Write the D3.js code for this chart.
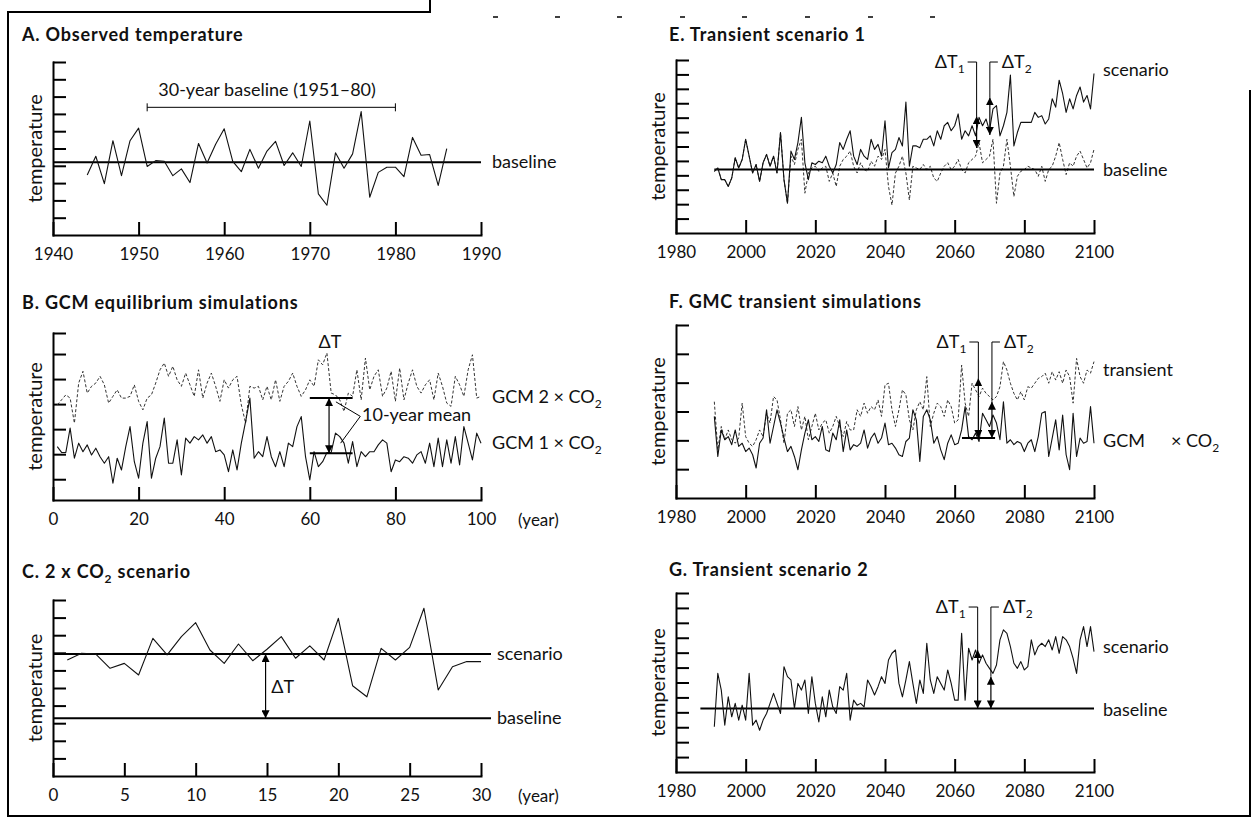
<!DOCTYPE html>
<html><head><meta charset="utf-8">
<script src="https://cdn.jsdelivr.net/npm/d3@7"></script>
<style>
body{margin:0;background:#fff;}
svg text{font-family:Lato,"Open Sans",sans-serif;fill:#111;}
</style></head><body>
<svg id="c" width="1257" height="831"></svg>
<script>
// ---------- DATA (values in temperature tick units) ----------
// A. Observed temperature
const aYears = d3.range(1944, 1987);
const aObserved = [3.47,4.55,2.97,5.45,3.43,5.45,6.18,3.96,4.30,4.26,3.43,3.82,3.03,5.29,4.16,5.25,6.14,4.26,3.66,4.95,3.86,4.85,5.41,4.02,4.75,3.96,6.59,2.38,1.72,4.75,3.86,4.69,7.13,2.18,3.62,3.92,3.92,3.37,5.64,4.61,4.65,2.87,4.99];
const aBaseline = 4.2;
const aXTicks = [1940,1950,1960,1970,1980,1990];

// B. GCM equilibrium simulations
const bYears = d3.range(1, 101);
const bGCM1 = [1.3,1.07,1.07,2.04,0.84,1.44,1.1,1.37,0.97,1.24,
0.9,0.64,0.9,-0.16,0.84,0.37,1.3,2.1,0.7,0.04,
1.44,2.3,0.04,0.84,1.3,2.44,0.64,0.64,1.57,0.17,
1.64,1.44,1.7,1.57,1.77,1.44,1.7,1.1,1.17,0.97,
0.3,1.17,0.37,1.44,2.3,3.24,0.84,1.1,0.9,1.7,
0.9,0.5,1.1,0.5,1.44,1.3,2.1,2.5,0.9,-0.03,
1.1,0.5,0.7,1.07,1.07,1.84,1.7,1.44,0.64,1.5,
0.5,1.1,0.9,1.1,1.1,1.37,1.57,1.44,0.3,0.77,
0.7,0.9,0.84,0.64,0.97,1.1,0.64,1.44,0.5,1.64,
0.5,1.57,0.64,1.7,0.57,2.1,1.44,0.77,1.84,1.44];
const bGCM2 = [2.97,3.17,3.37,3.24,2.24,3.84,4.31,3.44,3.71,3.84,
4.11,3.77,3.04,3.31,3.57,3.24,3.24,3.31,3.77,3.11,
2.77,3.24,3.37,3.84,4.37,4.64,4.11,4.51,3.97,3.71,
4.24,3.77,3.31,4.37,3.24,3.84,4.24,3.71,3.11,3.97,
3.64,3.97,4.11,2.97,2.24,3.71,3.64,3.71,3.17,3.71,
3.17,3.97,3.11,3.71,3.91,4.24,3.71,3.31,3.57,3.97,
3.71,4.77,4.57,5.04,3.44,3.37,3.17,2.71,3.44,3.31,
4.37,3.17,4.84,3.57,4.11,4.37,3.31,3.64,4.31,3.11,
4.44,3.17,3.84,4.37,3.71,3.44,3.77,3.97,3.17,4.24,
3.71,3.04,2.91,4.11,3.77,3.31,4.37,4.97,3.24,3.31];
const bMeanYears = [60, 70];
const bMean1 = 1.04, bMean2 = 3.24;
const bXTicks = [0,20,40,60,80,100];

// C. 2 x CO2 scenario
const cYears = d3.range(1, 31);
const cScenario = [6.59,6.97,6.93,6.12,6.4,5.74,7.82,6.88,7.92,8.71,7.16,6.4,7.5,6.55,7.2,7.92,6.69,7.39,6.59,8.96,5.13,4.5,7.25,6.59,7.31,9.53,4.89,6.21,6.5,6.5];
const cScenarioLevel = 6.93, cBaseline = 3.28;
const cXTicks = [0,5,10,15,20,25,30];

// E/F/G year axis
const tYears = d3.range(1991, 2101);
const tXTicks = [1980,2000,2020,2040,2060,2080,2100];

// E. Transient scenario 1
const eScenario = [4.28,4.51,3.70,3.70,3.23,3.81,5.22,4.51,5.10,6.50,
5.33,4.16,4.75,3.58,4.87,5.45,4.63,5.33,4.16,6.97,
3.70,2.06,5.68,5.10,6.27,8.02,4.87,3.70,4.87,4.75,
4.98,4.87,5.33,4.63,4.16,4.75,6.27,5.80,6.50,7.09,
5.33,4.75,5.80,5.33,5.10,6.50,5.80,6.15,5.33,7.79,
4.51,5.57,5.80,6.62,6.04,9.08,4.63,6.04,6.04,5.92,
6.50,6.50,6.74,6.04,7.09,6.50,7.44,7.67,7.09,7.44,
8.26,6.50,7.09,6.74,7.44,6.74,8.02,7.44,7.91,7.09,
8.61,8.84,6.74,7.44,8.37,10.95,6.04,6.97,7.67,7.67,
7.67,7.67,8.37,8.02,8.14,7.56,7.91,9.31,8.73,10.60,
9.66,8.37,9.31,8.61,9.54,10.13,9.08,9.54,8.61,11.06];
const eBaselineSeries = [4.28,4.51,3.70,3.70,3.23,3.81,5.22,4.51,5.10,6.50,
5.33,4.16,4.75,3.58,4.87,5.45,4.63,5.33,4.16,6.97,
3.70,2.06,5.33,4.75,5.80,6.50,2.76,4.16,4.51,4.63,
4.28,4.51,4.63,3.58,4.16,3.23,4.63,5.10,5.33,5.68,
4.63,4.16,4.87,4.40,4.28,4.98,4.63,5.33,5.10,5.80,
3.23,1.94,4.16,4.63,5.33,4.16,2.29,4.63,4.51,4.40,
4.75,4.40,4.63,3.81,3.58,4.16,4.63,4.87,4.40,4.63,
5.10,4.40,4.16,4.87,5.10,5.33,6.27,4.87,5.10,5.33,
6.50,2.06,4.16,4.63,6.50,4.63,2.53,3.93,4.28,4.40,
4.63,4.51,4.40,3.93,4.63,3.58,4.40,4.63,5.33,6.27,
5.10,4.05,4.87,4.63,5.33,5.68,5.10,4.51,4.87,5.80];
const eBaseline = 4.4;

// F. GMC transient simulations
const fControl = [2.83,1.44,2.36,2.02,2.13,1.85,2.36,1.79,1.90,1.61,
1.73,1.50,1.04,1.90,2.08,3.06,1.90,2.48,3.06,2.60,
2.08,1.61,1.79,1.44,0.98,1.67,2.25,2.71,2.02,2.13,
1.96,2.48,1.67,1.61,2.25,2.02,2.71,1.61,2.36,1.67,
1.85,1.79,1.90,2.36,1.73,2.08,2.25,1.90,2.08,2.60,
1.85,1.90,1.73,1.50,1.44,1.96,2.08,3.06,2.71,1.27,
2.83,3.06,2.71,1.90,2.13,1.67,1.33,1.90,2.19,1.85,
1.90,2.36,3.17,2.13,2.02,2.25,1.96,2.94,2.71,2.48,
2.88,2.60,2.02,3.34,1.90,2.02,1.85,1.96,1.90,1.61,
1.90,2.02,1.61,2.13,2.94,3.00,1.44,2.08,2.71,1.67,
2.88,1.50,0.98,2.94,1.44,2.08,1.90,1.96,3.17,1.90];
const fTransient = [3.34,1.67,2.48,2.02,2.36,2.02,1.90,2.08,3.29,2.13,
1.90,1.79,2.02,2.36,2.13,2.94,2.60,3.52,3.40,2.71,
1.90,2.94,3.06,2.48,3.17,2.36,2.83,2.02,2.48,2.94,
2.36,2.60,2.71,2.25,2.48,2.83,2.48,2.13,2.65,2.36,
2.36,3.06,2.83,3.29,2.94,3.17,3.06,3.40,2.83,3.92,
3.98,3.06,2.48,3.06,3.75,3.58,2.71,2.36,3.06,3.34,
3.06,4.21,2.48,2.94,3.29,3.17,2.83,3.40,3.17,2.60,
2.71,4.61,3.29,2.83,3.98,3.75,3.52,3.81,3.63,3.52,
3.40,3.52,3.86,4.73,4.44,3.98,3.63,3.40,3.69,3.40,
3.86,3.81,3.98,4.15,4.21,4.33,3.98,4.38,4.09,4.38,
3.98,4.44,4.21,3.29,4.84,4.21,3.98,4.44,4.33,4.73];
const fMeanYears = [2062.1, 2071.6];
const fMean = 2.08;

// G. Transient scenario 2
const gScenario = [3.03,6.61,5.49,3.14,5.04,3.70,4.60,3.48,4.48,3.48,
6.61,3.14,3.48,2.80,3.48,3.92,4.60,5.27,4.60,3.92,
7.06,6.39,6.17,4.26,5.94,5.49,6.17,3.92,6.39,4.60,
3.36,5.04,3.70,5.49,4.37,3.92,5.72,5.49,6.61,3.48,
4.82,4.48,4.60,4.37,6.17,5.72,5.16,5.72,6.39,5.94,
7.51,7.96,8.18,5.94,5.04,6.17,7.40,5.94,4.60,6.17,
5.27,8.63,6.17,5.27,6.39,5.94,5.49,6.84,5.94,4.82,
4.82,9.30,4.82,8.30,7.51,8.18,7.29,7.85,7.29,6.95,
6.61,7.17,8.86,9.53,9.30,8.41,7.29,6.95,7.40,6.84,
7.06,8.86,7.85,8.41,8.63,8.41,8.86,8.18,9.08,7.96,
9.08,8.86,8.41,7.62,6.61,8.86,9.75,8.41,9.75,8.07];
const gBaseline = 4.26;

// ---------- DRAWING ----------
const svg = d3.select("#c");
const defs = svg.append("defs");
defs.append("marker").attr("id","ah").attr("viewBox","0 0 10 10")
  .attr("refX",10).attr("refY",5).attr("markerWidth",8).attr("markerHeight",8)
  .attr("markerUnits","userSpaceOnUse").attr("orient","auto-start-reverse")
  .append("path").attr("d","M0,0L10,5L0,10z").attr("fill","#000");

// frame (scanned page border)
const frame = svg.append("g").attr("stroke","#000").attr("stroke-width",2).attr("fill","none");
frame.append("path").attr("d","M430,0V12H8V816H1250V90");
[493,555,617,680,742,805,868,930].forEach(x=>{
  frame.append("line").attr("x1",x).attr("x2",x+5).attr("y1",17).attr("y2",17).attr("stroke-width",1.5);
});

function rich(g, x, y, parts, size, opts={}) {
  const t = g.append("text").attr("x",x).attr("y",y).attr("font-size",size)
    .attr("text-anchor",opts.anchor||"start").attr("font-weight",opts.weight||null)
    .attr("letter-spacing",opts.ls||null);
  let shift = 0;
  parts.forEach(p=>{
    const isSub = Array.isArray(p);
    const txt = isSub ? p[0] : p;
    const target = isSub ? Math.round(size*0.3) : 0;
    const ts = t.append("tspan").text(txt).attr("dy", target - shift);
    if (isSub) ts.attr("font-size", Math.round(size*0.68));
    shift = target;
  });
  return t;
}

function panel(cfg){
  const x = d3.scaleLinear().domain(cfg.xDom).range([cfg.x0,cfg.x1]);
  const y = d3.scaleLinear().domain(cfg.yDom).range([cfg.yBot,cfg.yTop]);
  const g = svg.append("g");
  const ya = g.append("g").attr("transform",`translate(${cfg.x0},0)`)
    .call(d3.axisRight(y).tickValues(cfg.yTicks).tickSizeInner(13).tickSizeOuter(0).tickFormat(""));
  const xa = g.append("g").attr("transform",`translate(0,${cfg.yBot})`)
    .call(d3.axisBottom(x).tickValues(cfg.xTicks).tickSizeInner(-13).tickSizeOuter(0).tickPadding(13).tickFormat(d3.format("d")));
  [ya,xa].forEach(a=>{
    a.select(".domain").attr("stroke","#000").attr("stroke-width",2).attr("stroke-linecap","square");
    a.selectAll(".tick line").attr("stroke","#000").attr("stroke-width",2);
    a.selectAll(".tick text").attr("font-size",17).attr("fill","#111")
      .attr("font-family",'Lato,"Open Sans",sans-serif');
  });
  // title
  rich(g, cfg.tx, cfg.ty, cfg.title, 18, {weight:700, ls:0.8});
  // y label
  g.append("text").attr("transform",`translate(${cfg.x0-19},${(cfg.yTop+cfg.yBot)/2}) rotate(-90)`)
    .attr("text-anchor","middle").attr("dominant-baseline","central").attr("font-size",20).text("temperature");
  if (cfg.unit) g.append("text").attr("x",cfg.x1+37).attr("y",cfg.yBot+26).attr("font-size",17).text(cfg.unit);
  return {x,y,g};
}

function series(p, xs, vs, dashed){
  const line = d3.line().x(d=>p.x(d[0])).y(d=>p.y(d[1]));
  p.g.append("path").datum(xs.map((d,i)=>[d,vs[i]])).attr("d",line)
    .attr("fill","none").attr("stroke", dashed ? "#333" : "#111")
    .attr("stroke-width", dashed ? 1 : 1.1)
    .attr("stroke-dasharray", dashed ? "3,2" : null)
    .attr("stroke-linejoin","round");
}
function hline(p, x0, x1, v, w=2){
  p.g.append("line").attr("x1",p.x(x0)).attr("x2",p.x(x1)).attr("y1",p.y(v)).attr("y2",p.y(v))
    .attr("stroke","#000").attr("stroke-width",w);
}
function arrow2(p, xv, v0, v1){
  p.g.append("line").attr("x1",p.x(xv)).attr("x2",p.x(xv)).attr("y1",p.y(v0)).attr("y2",p.y(v1))
    .attr("stroke","#000").attr("stroke-width",1.2)
    .attr("marker-start","url(#ah)").attr("marker-end","url(#ah)");
}
function deltaLabels(p, x1v, top1, x2v, top2, labV){
  const ly = p.y(labV);
  const X1 = p.x(x1v), X2 = p.x(x2v);
  p.g.append("path").attr("d",`M${X1-9},${ly}H${X1}V${p.y(top1)}`).attr("fill","none").attr("stroke","#000").attr("stroke-width",1);
  p.g.append("path").attr("d",`M${X2+8},${ly}H${X2}V${p.y(top2)}`).attr("fill","none").attr("stroke","#000").attr("stroke-width",1);
  rich(p.g, X1-12, ly+6, ["ΔT",["1"]], 18, {anchor:"end"});
  rich(p.g, X2+12, ly+6, ["ΔT",["2"]], 18);
}

// ---- Panel A
const A = panel({x0:53,x1:481,yTop:62,yBot:235,xDom:[1940,1990],yDom:[0,10],
  yTicks:d3.range(1,11),xTicks:aXTicks,tx:22,ty:41,title:["A. Observed temperature"]});
hline(A,1940,1990,aBaseline);
series(A,aYears,aObserved,false);
A.g.append("text").attr("x",A.x(1990)+11).attr("y",A.y(aBaseline)+6).attr("font-size",18).text("baseline");
A.g.append("path").attr("d",`M${A.x(1951)},${A.y(7.38)-4}V${A.y(7.38)+4}M${A.x(1951)},${A.y(7.38)}H${A.x(1980)}M${A.x(1980)},${A.y(7.38)-4}V${A.y(7.38)+4}`)
  .attr("stroke","#000").attr("stroke-width",1).attr("fill","none");
A.g.append("text").attr("x",A.x(1952.3)).attr("y",A.y(8.37)+6).attr("font-size",18).text("30-year baseline (1951–80)");

// ---- Panel B
const B = panel({x0:53,x1:481,yTop:333,yBot:500,xDom:[0,100],yDom:[-0.83,5.84],
  yTicks:[0,1,2,3,4,5,5.84],xTicks:bXTicks,tx:22,ty:309,title:["B. GCM equilibrium simulations"],unit:"(year)"});
series(B,bYears,bGCM2,true);
series(B,bYears,bGCM1,false);
hline(B,bMeanYears[0],bMeanYears[1],bMean2);
hline(B,bMeanYears[0],bMeanYears[1],bMean1);
arrow2(B,64.5,bMean1,bMean2);
B.g.append("text").attr("x",B.x(64.7)).attr("y",B.y(5.48)+6).attr("text-anchor","middle").attr("font-size",18).text("ΔT");
B.g.append("path").attr("d",`M${B.x(66.1)},${B.y(3.09)}L${B.x(71.8)},${B.y(2.51)}L${B.x(67.2)},${B.y(1.44)}`)
  .attr("fill","none").attr("stroke","#000").attr("stroke-width",1);
B.g.append("text").attr("x",B.x(72.2)).attr("y",B.y(2.55)+6).attr("font-size",18).text("10-year mean");
rich(B.g, 492, B.y(3.3)+6, ["GCM 2 × CO",["2"]], 18);
rich(B.g, 492, B.y(1.45)+6, ["GCM 1 × CO",["2"]], 18);

// ---- Panel C
const C = panel({x0:53,x1:481,yTop:600,yBot:776,xDom:[0,30],yDom:[0,10],
  yTicks:d3.range(1,11),xTicks:cXTicks,tx:22,ty:578,title:["C. 2 x CO",["2"]," scenario"],unit:"(year)"});
hline(C,0,30.7,cScenarioLevel);
hline(C,0,30.7,cBaseline);
series(C,cYears,cScenario,false);
arrow2(C,14.9,cBaseline,cScenarioLevel);
C.g.append("text").attr("x",C.x(15.3)).attr("y",C.y(5.06)+6).attr("font-size",18).text("ΔT");
C.g.append("text").attr("x",497).attr("y",C.y(cScenarioLevel)+6).attr("font-size",18).text("scenario");
C.g.append("text").attr("x",497).attr("y",C.y(cBaseline)+6).attr("font-size",18).text("baseline");

// ---- Panel E
const E = panel({x0:676,x1:1094,yTop:60,yBot:233,xDom:[1980,2100],yDom:[0,12],
  yTicks:d3.range(1,13),xTicks:tXTicks,tx:669,ty:41,title:["E. Transient scenario 1"]});
series(E,tYears,eBaselineSeries,true);
hline(E,1991,2100,eBaseline);
series(E,tYears,eScenario,false);
arrow2(E,2066.3,5.9,8.1);
arrow2(E,2070.1,6.8,9.4);
deltaLabels(E,2066.3,8.1,2070.1,9.4,11.86);
E.g.append("text").attr("x",1103).attr("y",E.y(11.3)+6).attr("font-size",18).text("scenario");
E.g.append("text").attr("x",1103).attr("y",E.y(eBaseline)+6).attr("font-size",18).text("baseline");

// ---- Panel F
const F = panel({x0:676,x1:1094,yTop:325,yBot:498,xDom:[1980,2100],yDom:[0,6],
  yTicks:d3.range(1,7),xTicks:tXTicks,tx:669,ty:308,title:["F. GMC transient simulations"]});
series(F,tYears,fTransient,true);
series(F,tYears,fControl,false);
hline(F,fMeanYears[0],fMeanYears[1],fMean);
arrow2(F,2066.8,fMean,4.15);
arrow2(F,2070.7,fMean,3.34);
deltaLabels(F,2066.8,4.15,2070.7,3.34,5.41);
F.g.append("text").attr("x",1103).attr("y",F.y(4.44)+6).attr("font-size",18).text("transient");
F.g.append("text").attr("x",1103).attr("y",F.y(1.96)+6).attr("font-size",18).text("GCM");
rich(F.g, 1171, F.y(1.96)+6, ["× CO",["2"]], 18);

// ---- Panel G
const G = panel({x0:676,x1:1094,yTop:593,yBot:772,xDom:[1980,2100],yDom:[0,12],
  yTicks:d3.range(1,13),xTicks:tXTicks,tx:669,ty:576,title:["G. Transient scenario 2"]});
hline(G,1987,2100,gBaseline);
series(G,tYears,gScenario,false);
arrow2(G,2066.6,gBaseline,8.18);
arrow2(G,2070.4,gBaseline,6.39);
deltaLabels(G,2066.6,8.18,2070.4,6.39,11.06);
G.g.append("text").attr("x",1103).attr("y",G.y(8.4)+6).attr("font-size",18).text("scenario");
G.g.append("text").attr("x",1103).attr("y",G.y(4.15)+6).attr("font-size",18).text("baseline");
</script>
</body></html>
